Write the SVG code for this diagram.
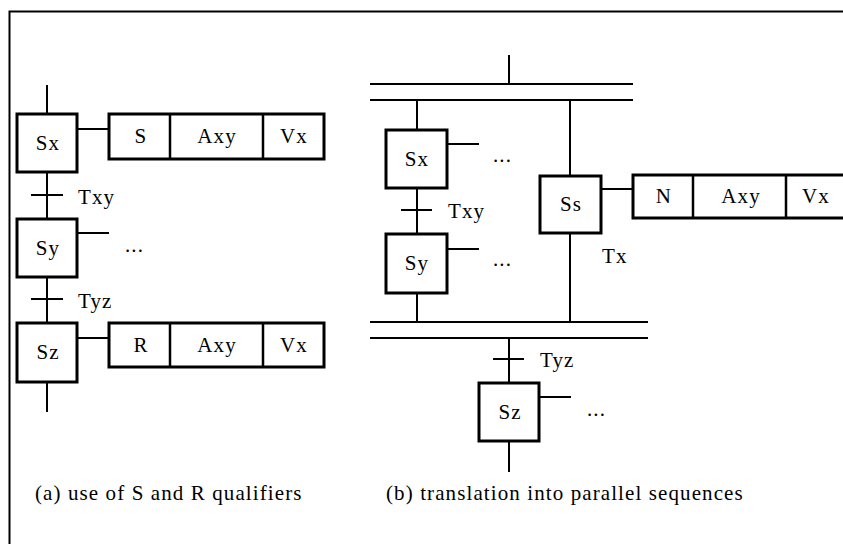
<svg xmlns="http://www.w3.org/2000/svg" width="843" height="544" viewBox="0 0 843 544">
<style>
.box{fill:#fff;stroke:#000;stroke-width:3}
.ln{stroke:#000;stroke-width:2;fill:none}
.cell{stroke:#000;stroke-width:2.5;fill:none}
text{font-family:"Liberation Serif","DejaVu Serif",serif;font-size:21px;letter-spacing:1.1px;fill:#000}
.c{text-anchor:middle}
</style>
<rect width="843" height="544" fill="#fff"/>
<path class="ln" d="M9.5,544 V11.5 H843"/>
<g id="connectors">
<path class="ln" d="M47,85 V114 M47,172 V219 M31,195 H63 M47,277 V323 M31,299 H63 M47,382 V412"/>
<path class="ln" d="M77,129 H109 M77,233 H109 M77,338 H109"/>
<path class="ln" d="M509,55 V84 M370,84 H633 M370,100 H633"/>
<path class="ln" d="M417,100 V130 M417,188 V234 M401,210 H432 M417,293 V322"/>
<path class="ln" d="M570,100 V176 M570,233 V322"/>
<path class="ln" d="M370,322 H648 M370,338 H648"/>
<path class="ln" d="M509,338 V383 M493,359 H524 M509,441 V472"/>
<path class="ln" d="M447,144 H479 M447,249 H479 M601,189 H633 M539,397 H571"/>
</g>
<g id="a_Sx"><rect class="box" x="17" y="114" width="60" height="58"/><text class="c" x="48" y="150">Sx</text></g>
<g id="a_Sy"><rect class="box" x="17" y="219" width="60" height="58"/><text class="c" x="48" y="255">Sy</text></g>
<g id="a_Sz"><rect class="box" x="17" y="323" width="60" height="59"/><text class="c" x="48" y="359">Sz</text></g>
<g id="a_Txy"><text x="78" y="204">Txy</text></g>
<g id="a_Tyz"><text x="78" y="308">Tyz</text></g>
<g id="a_dots"><text x="125" y="252">...</text></g>
<g id="a_act1"><rect class="box" x="109" y="114" width="215" height="45"/><path class="cell" d="M170,114 V159 M263,114 V159"/>
<text class="c" x="141" y="143">S</text><text class="c" x="217" y="143">Axy</text><text class="c" x="294" y="143">Vx</text></g>
<g id="a_act2"><rect class="box" x="109" y="323" width="215" height="44"/><path class="cell" d="M170,323 V367 M263,323 V367"/>
<text class="c" x="141" y="352">R</text><text class="c" x="217" y="352">Axy</text><text class="c" x="294" y="352">Vx</text></g>
<g id="b_Sx"><rect class="box" x="386" y="130" width="61" height="58"/><text class="c" x="417" y="166">Sx</text></g>
<g id="b_Sy"><rect class="box" x="386" y="234" width="61" height="59"/><text class="c" x="417" y="270">Sy</text></g>
<g id="b_Ss"><rect class="box" x="540" y="176" width="61" height="57"/><text class="c" x="571" y="211">Ss</text></g>
<g id="b_Sz"><rect class="box" x="479" y="383" width="60" height="58"/><text class="c" x="510" y="419">Sz</text></g>
<g id="b_Txy"><text x="448" y="218">Txy</text></g>
<g id="b_Tx"><text x="602" y="263">Tx</text></g>
<g id="b_Tyz"><text x="540" y="367">Tyz</text></g>
<g id="b_dots"><text x="493" y="162">...</text><text x="493" y="266">...</text><text x="587" y="416">...</text></g>
<g id="b_act"><rect class="box" x="633" y="175" width="215" height="43"/><path class="cell" d="M693,175 V218 M786,175 V218"/>
<text class="c" x="664" y="203">N</text><text class="c" x="741" y="203">Axy</text><text class="c" x="816" y="203">Vx</text></g>
<g id="captions"><text x="35" y="500">(a) use of S and R qualifiers</text><text x="386" y="500">(b) translation into parallel sequences</text></g>
</svg>
